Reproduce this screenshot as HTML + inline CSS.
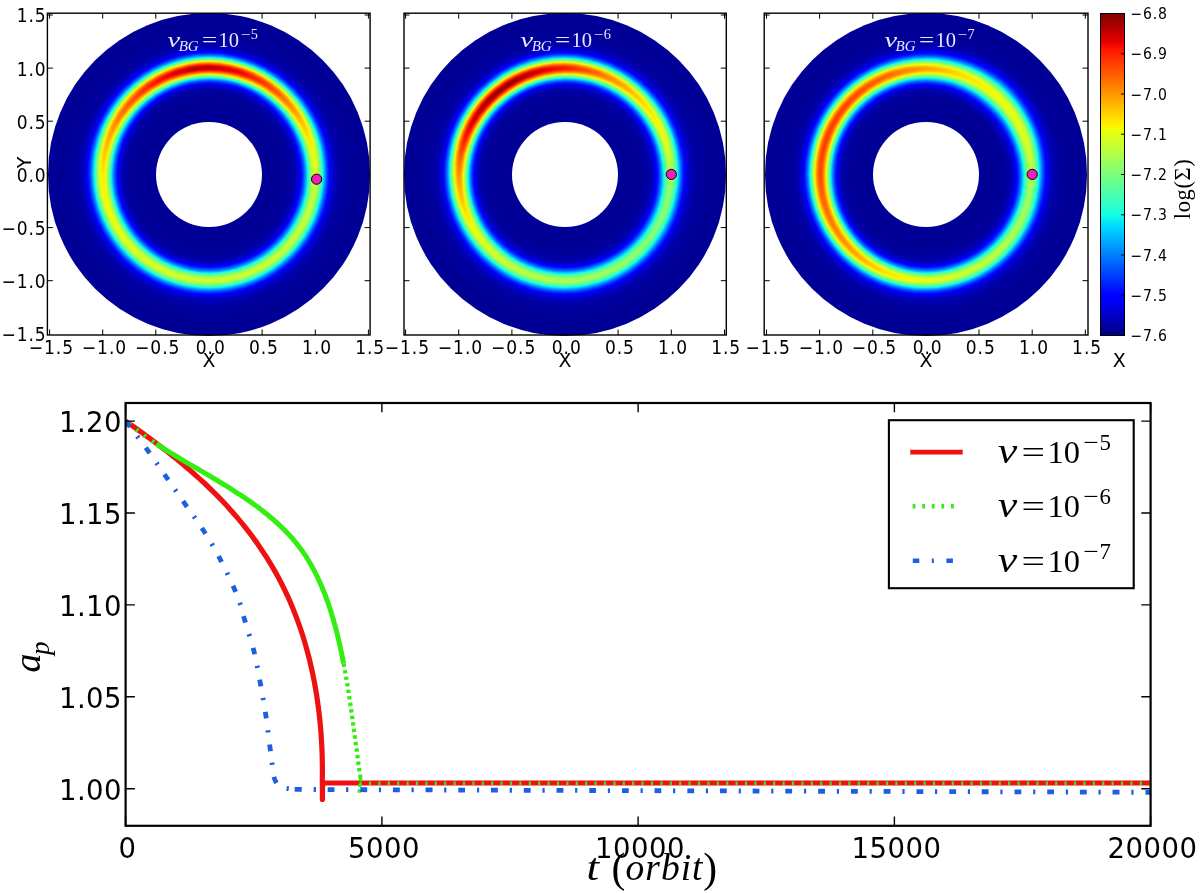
<!DOCTYPE html>
<html><head><meta charset="utf-8"><title>Migration figure</title>
<style>
html,body{margin:0;padding:0;background:#fff}
#fig{position:relative;width:1200px;height:893px;overflow:hidden;background:#fff}
.d{position:absolute;border-radius:50%}
svg{position:absolute;left:0;top:0}
svg{font-family:'DejaVu Sans','Liberation Sans',sans-serif;fill:#000}
</style></head><body>
<div id="fig">
<div class="d" style="left:47.8px;top:13.2px;width:322.4px;height:322.4px;background:#000097"></div>
<div class="d" style="left:52.7px;top:18.1px;width:312.5px;height:312.5px;background:#000097"></div>
<div class="d" style="left:56.7px;top:22.1px;width:304.5px;height:304.5px;background:#000097"></div>
<div class="d" style="left:60.7px;top:26.1px;width:296.5px;height:296.5px;background:#000097"></div>
<div class="d" style="left:64.7px;top:30.1px;width:288.5px;height:288.5px;background:#000098"></div>
<div class="d" style="left:68.7px;top:34.1px;width:280.5px;height:280.5px;background:#00009a"></div>
<div class="d" style="left:72.7px;top:38.1px;width:272.5px;height:272.5px;background:#00009d"></div>
<div class="d" style="left:74.7px;top:40.1px;width:268.5px;height:268.5px;background:#0000a0"></div>
<div class="d" style="left:76.7px;top:42.1px;width:264.5px;height:264.5px;background:#0000a5"></div>
<div class="d" style="left:78.7px;top:44.1px;width:260.5px;height:260.5px;background:conic-gradient(#0000ad 0deg,#0000a9 220deg,#0000ad 360deg)"></div>
<div class="d" style="left:80.7px;top:46.1px;width:256.5px;height:256.5px;background:conic-gradient(#0000ba 0deg,#0000b1 200deg,#0000bb 310deg,#0000ba 360deg)"></div>
<div class="d" style="left:82.7px;top:48.1px;width:252.5px;height:252.5px;background:conic-gradient(#0000d1 0deg,#0000bc 190deg,#0000cf 290deg,#0000d1 360deg)"></div>
<div class="d" style="left:84.7px;top:50.1px;width:248.5px;height:248.5px;background:conic-gradient(#0000f6 0deg,#0000ce 180deg,#0000e8 260deg,#0000f7 330deg,#0000f6 360deg)"></div>
<div class="d" style="left:86.7px;top:52.1px;width:244.5px;height:244.5px;background:conic-gradient(#000eff 0deg,#0000ff 60deg,#0000ff 90deg,#0000e3 180deg,#0000ff 250deg,#0006ff 300deg,#0010ff 350deg,#000eff 360deg)"></div>
<div class="d" style="left:87.7px;top:53.1px;width:242.5px;height:242.5px;background:conic-gradient(#002fff 0deg,#0020ff 40deg,#0000ff 100deg,#0000fc 160deg,#0000f6 180deg,#0000ff 210deg,#0004ff 240deg,#001aff 280deg,#0031ff 350deg,#002fff 360deg)"></div>
<div class="d" style="left:88.7px;top:54.1px;width:240.5px;height:240.5px;background:conic-gradient(#0057ff 0deg,#0042ff 40deg,#0024ff 80deg,#000dff 130deg,#0000ff 180deg,#000bff 210deg,#0039ff 280deg,#0056ff 340deg,#0057ff 360deg)"></div>
<div class="d" style="left:89.7px;top:55.1px;width:238.5px;height:238.5px;background:conic-gradient(#0086ff 0deg,#0074ff 30deg,#0044ff 80deg,#0030ff 110deg,#0015ff 180deg,#003cff 240deg,#005dff 280deg,#0084ff 340deg,#0086ff 360deg)"></div>
<div class="d" style="left:90.7px;top:56.1px;width:236.5px;height:236.5px;background:conic-gradient(#00bdff 0deg,#00a5ff 30deg,#0068ff 80deg,#0062ff 90deg,#0055ff 100deg,#0032ff 180deg,#005fff 240deg,#00b4ff 330deg,#00bfff 350deg,#00bdff 360deg)"></div>
<div class="d" style="left:91.7px;top:57.1px;width:234.5px;height:234.5px;background:conic-gradient(#12fce5 0deg,#00defd 30deg,#009dff 70deg,#0089ff 90deg,#007aff 100deg,#0054ff 180deg,#0086ff 240deg,#00d7ff 310deg,#00e3f9 320deg,#13fee3 350deg,#12fce5 360deg)"></div>
<div class="d" style="left:92.7px;top:58.1px;width:232.5px;height:232.5px;background:conic-gradient(#4affad 0deg,#2cffcb 30deg,#1dffda 40deg,#0cf4eb 50deg,#00e0fb 60deg,#00beff 80deg,#00b4ff 90deg,#00a3ff 100deg,#007aff 180deg,#00b1ff 240deg,#00d8ff 270deg,#00e4f8 280deg,#16ffe0 300deg,#3bffbc 330deg,#4bffac 350deg,#4affad 360deg)"></div>
<div class="d" style="left:93.7px;top:59.1px;width:230.5px;height:230.5px;background:conic-gradient(#86ff71 0deg,#71ff85 20deg,#3bffbb 50deg,#15ffe2 70deg,#07eef0 80deg,#00e1fa 90deg,#00ceff 100deg,#00a5ff 180deg,#00d5ff 230deg,#00e0fb 240deg,#12fbe5 260deg,#45ffb1 300deg,#72ff84 330deg,#87ff70 350deg,#86ff71 360deg)"></div>
<div class="d" style="left:94.7px;top:60.1px;width:228.5px;height:228.5px;background:conic-gradient(#c5ff32 0deg,#acff4b 20deg,#6cff8a 50deg,#3fffb8 70deg,#12fce5 100deg,#00e3f9 150deg,#00d3ff 180deg,#00e6f7 200deg,#10fae6 220deg,#23ffd4 240deg,#54ffa3 280deg,#acff4b 330deg,#c5ff32 350deg,#c5ff32 360deg)"></div>
<div class="d" style="left:95.7px;top:61.1px;width:226.5px;height:226.5px;background:conic-gradient(#ffe700 0deg,#f7f500 10deg,#e7ff10 20deg,#b9ff3e 40deg,#69ff8d 70deg,#56ffa1 80deg,#36ffc1 100deg,#18ffdf 180deg,#4affad 240deg,#7eff78 280deg,#e5ff11 330deg,#f4f802 340deg,#ffe700 350deg,#ffe700 360deg)"></div>
<div class="d" style="left:96.7px;top:62.1px;width:224.5px;height:224.5px;background:conic-gradient(#ffa100 0deg,#ffc700 20deg,#ffe300 30deg,#ebff0b 40deg,#92ff65 70deg,#7cff7a 80deg,#59ff9e 100deg,#3fffb8 180deg,#70ff87 240deg,#95ff62 270deg,#bcff3a 290deg,#edff0a 310deg,#ffe600 320deg,#ffca00 330deg,#ffa200 350deg,#ffa100 360deg)"></div>
<div class="d" style="left:97.7px;top:63.1px;width:222.5px;height:222.5px;background:conic-gradient(#ff6100 0deg,#ff8b00 20deg,#ffcd00 40deg,#f8f400 50deg,#d7ff20 60deg,#b7ff40 70deg,#9fff58 80deg,#79ff7d 100deg,#64ff93 180deg,#93ff64 240deg,#b8ff3f 270deg,#e4ff13 290deg,#ffed00 300deg,#ff9000 330deg,#ff6300 350deg,#ff6100 360deg)"></div>
<div class="d" style="left:98.7px;top:64.1px;width:220.5px;height:220.5px;background:conic-gradient(#ff2b00 0deg,#ff3e00 10deg,#ff5800 20deg,#ffa000 40deg,#f9f300 60deg,#d7ff20 70deg,#bdff3a 80deg,#95ff62 100deg,#86ff71 180deg,#b2ff45 240deg,#d6ff21 270deg,#ecff0b 280deg,#ffe500 290deg,#ff5f00 330deg,#ff2d00 350deg,#ff2b00 360deg)"></div>
<div class="d" style="left:99.7px;top:65.1px;width:218.5px;height:218.5px;background:conic-gradient(#e80000 0deg,#ff1500 10deg,#ff3000 20deg,#ff7c00 40deg,#ffd400 60deg,#effe07 70deg,#d4ff23 80deg,#abff4c 100deg,#a3ff53 180deg,#c3ff34 230deg,#edff0a 270deg,#ffe600 280deg,#ff8000 310deg,#ff3800 330deg,#ff1e00 340deg,#ec0300 350deg,#e80000 360deg)"></div>
<div class="d" style="left:100.7px;top:66.1px;width:216.5px;height:216.5px;background:conic-gradient(#c50000 0deg,#df0000 10deg,#ff1600 20deg,#ff6500 40deg,#ffeb00 70deg,#e3ff13 80deg,#baff3d 100deg,#baff3d 180deg,#ceff28 220deg,#e7ff10 250deg,#f1fc05 260deg,#fcef00 270deg,#ffb300 290deg,#ff1f00 330deg,#eb0300 340deg,#c90000 350deg,#c50000 360deg)"></div>
<div class="d" style="left:101.7px;top:67.1px;width:214.5px;height:214.5px;background:conic-gradient(#b50000 0deg,#d10000 10deg,#f40a00 20deg,#ff3000 30deg,#ffe300 70deg,#eaff0d 80deg,#c1ff36 100deg,#ccff2b 190deg,#e5ff12 240deg,#effe08 250deg,#f9f300 260deg,#ffe800 270deg,#ffaa00 290deg,#ff1300 330deg,#dd0000 340deg,#ba0000 350deg,#b50000 360deg)"></div>
<div class="d" style="left:102.7px;top:68.1px;width:212.5px;height:212.5px;background:conic-gradient(#bb0000 0deg,#d60000 10deg,#f90e00 20deg,#ff5e00 40deg,#ffe600 70deg,#e8ff0f 80deg,#bfff37 100deg,#d6ff21 210deg,#eeff08 250deg,#f8f500 260deg,#ffea00 270deg,#ffad00 290deg,#ff1700 330deg,#e20000 340deg,#bf0000 350deg,#bb0000 360deg)"></div>
<div class="d" style="left:103.7px;top:69.1px;width:210.5px;height:210.5px;background:conic-gradient(#d40000 0deg,#ef0600 10deg,#ff2200 20deg,#ff6f00 40deg,#ffc900 60deg,#f8f400 70deg,#dcff1a 80deg,#b6ff41 100deg,#d4ff23 220deg,#e5ff12 250deg,#edff0a 260deg,#f5f702 270deg,#ffdc00 280deg,#ff7300 310deg,#ff2a00 330deg,#fa0f00 340deg,#d90000 350deg,#d40000 360deg)"></div>
<div class="d" style="left:104.7px;top:70.1px;width:208.5px;height:208.5px;background:conic-gradient(#ff1500 0deg,#ff2900 10deg,#ff4400 20deg,#ff8e00 40deg,#ffe300 60deg,#e3ff14 70deg,#c8ff2e 80deg,#a4ff53 100deg,#beff39 190deg,#c8ff2f 230deg,#daff1d 260deg,#e1ff16 270deg,#f8f400 280deg,#ffd600 290deg,#ff4b00 330deg,#ff1800 350deg,#ff1500 360deg)"></div>
<div class="d" style="left:105.7px;top:71.1px;width:206.5px;height:206.5px;background:conic-gradient(#ff4600 0deg,#ff7200 20deg,#ffb700 40deg,#ffe000 50deg,#e7ff0f 60deg,#c6ff31 70deg,#adff4a 80deg,#8cff6b 100deg,#a7ff4f 180deg,#acff4a 220deg,#b9ff3e 250deg,#c6ff31 270deg,#f4f903 290deg,#ffd900 300deg,#ff7800 330deg,#ff4900 350deg,#ff4600 360deg)"></div>
<div class="d" style="left:106.7px;top:72.1px;width:204.5px;height:204.5px;background:conic-gradient(#ff8300 0deg,#ffab00 20deg,#ffea00 40deg,#e0ff16 50deg,#a3ff54 70deg,#8cff6b 80deg,#6eff89 100deg,#8bff6c 180deg,#91ff66 230deg,#a5ff52 270deg,#ceff29 290deg,#e8ff0f 300deg,#ffe900 310deg,#ffaf00 330deg,#ff8500 350deg,#ff8300 360deg)"></div>
<div class="d" style="left:107.7px;top:73.1px;width:202.5px;height:202.5px;background:conic-gradient(#ffc700 0deg,#ffeb00 20deg,#e9ff0d 30deg,#7bff7c 70deg,#66ff90 80deg,#4bffab 100deg,#69ff8e 180deg,#6dff89 230deg,#7fff78 270deg,#bbff3c 300deg,#e8ff0f 320deg,#feed00 330deg,#ffc800 350deg,#ffc700 360deg)"></div>
<div class="d" style="left:108.7px;top:74.1px;width:200.5px;height:200.5px;background:conic-gradient(#e0ff17 0deg,#c5ff31 20deg,#81ff76 50deg,#50ffa7 70deg,#32ffc5 90deg,#27ffd0 100deg,#43ffb4 180deg,#49ffae 240deg,#56ffa1 270deg,#8aff6d 300deg,#c4ff32 330deg,#e0ff17 350deg,#e0ff17 360deg)"></div>
<div class="d" style="left:109.7px;top:75.1px;width:198.5px;height:198.5px;background:conic-gradient(#a0ff57 0deg,#89ff6e 20deg,#4fffa8 50deg,#25ffd2 70deg,#15ffe2 80deg,#01e7f6 100deg,#15ffe2 160deg,#1bffdb 190deg,#20ffd6 240deg,#2cffcb 270deg,#69ff8e 310deg,#8aff6d 330deg,#a0ff56 350deg,#a0ff57 360deg)"></div>
<div class="d" style="left:110.7px;top:76.1px;width:196.5px;height:196.5px;background:conic-gradient(#61ff95 0deg,#4fffa8 20deg,#1dffda 50deg,#0bf4eb 60deg,#00defd 70deg,#00c3ff 90deg,#00b9ff 100deg,#00d6ff 180deg,#00dcff 240deg,#03e9f4 270deg,#19ffdd 290deg,#50ffa7 330deg,#62ff94 350deg,#61ff95 360deg)"></div>
<div class="d" style="left:111.7px;top:77.1px;width:194.5px;height:194.5px;background:conic-gradient(#26ffd1 0deg,#17ffe0 20deg,#00e3f9 40deg,#00beff 60deg,#009eff 80deg,#008dff 100deg,#00a6ff 190deg,#00b0ff 250deg,#00b7ff 270deg,#00dcfe 300deg,#04eaf3 310deg,#0ff8e8 320deg,#19ffdd 330deg,#28ffcf 350deg,#26ffd1 360deg)"></div>
<div class="d" style="left:112.7px;top:78.1px;width:192.5px;height:192.5px;background:conic-gradient(#00d2ff 0deg,#00b7ff 30deg,#0072ff 80deg,#0065ff 100deg,#007aff 190deg,#0083ff 250deg,#0089ff 270deg,#00cdff 340deg,#00d4ff 350deg,#00d2ff 360deg)"></div>
<div class="d" style="left:113.7px;top:79.1px;width:190.5px;height:190.5px;background:conic-gradient(#0096ff 0deg,#0081ff 30deg,#004bff 80deg,#0040ff 100deg,#0052ff 200deg,#005fff 270deg,#0093ff 340deg,#0098ff 350deg,#0096ff 360deg)"></div>
<div class="d" style="left:114.7px;top:80.1px;width:188.5px;height:188.5px;background:conic-gradient(#0062ff 0deg,#004aff 40deg,#0028ff 80deg,#0020ff 100deg,#002fff 200deg,#003aff 270deg,#0061ff 340deg,#0062ff 360deg)"></div>
<div class="d" style="left:115.7px;top:81.1px;width:186.5px;height:186.5px;background:conic-gradient(#0036ff 0deg,#0024ff 40deg,#000bff 80deg,#0005ff 110deg,#001aff 270deg,#0038ff 350deg,#0036ff 360deg)"></div>
<div class="d" style="left:116.7px;top:82.1px;width:184.5px;height:184.5px;background:conic-gradient(#0012ff 0deg,#0000ff 60deg,#0000fd 120deg,#0001ff 280deg,#0013ff 350deg,#0012ff 360deg)"></div>
<div class="d" style="left:117.7px;top:83.1px;width:182.5px;height:182.5px;background:conic-gradient(#0000ff 0deg,#0000fc 30deg,#0000e5 100deg,#0000f7 280deg,#0000ff 340deg,#0000ff 360deg)"></div>
<div class="d" style="left:118.7px;top:84.1px;width:180.5px;height:180.5px;background:conic-gradient(#0000e8 0deg,#0000d3 100deg,#0000e2 290deg,#0000ea 350deg,#0000e8 360deg)"></div>
<div class="d" style="left:119.7px;top:85.1px;width:178.5px;height:178.5px;background:conic-gradient(#0000d4 0deg,#0000c5 100deg,#0000d4 360deg)"></div>
<div class="d" style="left:120.7px;top:86.1px;width:176.5px;height:176.5px;background:conic-gradient(#0000c4 0deg,#0000bb 120deg,#0000c4 360deg)"></div>
<div class="d" style="left:121.7px;top:87.1px;width:174.5px;height:174.5px;background:conic-gradient(#0000b8 0deg,#0000b2 130deg,#0000b8 360deg)"></div>
<div class="d" style="left:122.7px;top:88.1px;width:172.5px;height:172.5px;background:#0000ab"></div>
<div class="d" style="left:124.7px;top:90.1px;width:168.5px;height:168.5px;background:#0000a2"></div>
<div class="d" style="left:126.7px;top:92.1px;width:164.5px;height:164.5px;background:#00009d"></div>
<div class="d" style="left:128.7px;top:94.1px;width:160.5px;height:160.5px;background:#00009a"></div>
<div class="d" style="left:130.7px;top:96.1px;width:156.5px;height:156.5px;background:#000098"></div>
<div class="d" style="left:132.7px;top:98.1px;width:152.5px;height:152.5px;background:#000098"></div>
<div class="d" style="left:134.7px;top:100.1px;width:148.5px;height:148.5px;background:#000097"></div>
<div class="d" style="left:136.7px;top:102.1px;width:144.5px;height:144.5px;background:#000097"></div>
<div class="d" style="left:140.7px;top:106.1px;width:136.5px;height:136.5px;background:#000097"></div>
<div class="d" style="left:144.7px;top:110.1px;width:128.5px;height:128.5px;background:#000097"></div>
<div class="d" style="left:148.7px;top:114.1px;width:120.5px;height:120.5px;background:#000097"></div>
<div class="d" style="left:152.7px;top:118.1px;width:112.5px;height:112.5px;background:#000097"></div>
<div class="d" style="left:156.2px;top:121.6px;width:105.7px;height:105.7px;background:#fff"></div>
<div class="d" style="left:403.8px;top:13.2px;width:322.4px;height:322.4px;background:#000097"></div>
<div class="d" style="left:408.7px;top:18.1px;width:312.5px;height:312.5px;background:#000097"></div>
<div class="d" style="left:412.7px;top:22.1px;width:304.5px;height:304.5px;background:#000097"></div>
<div class="d" style="left:416.7px;top:26.1px;width:296.5px;height:296.5px;background:#000097"></div>
<div class="d" style="left:420.7px;top:30.1px;width:288.5px;height:288.5px;background:#000098"></div>
<div class="d" style="left:424.7px;top:34.1px;width:280.5px;height:280.5px;background:#00009a"></div>
<div class="d" style="left:428.7px;top:38.1px;width:272.5px;height:272.5px;background:#00009d"></div>
<div class="d" style="left:430.7px;top:40.1px;width:268.5px;height:268.5px;background:#0000a0"></div>
<div class="d" style="left:432.7px;top:42.1px;width:264.5px;height:264.5px;background:#0000a4"></div>
<div class="d" style="left:434.7px;top:44.1px;width:260.5px;height:260.5px;background:conic-gradient(#0000ac 0deg,#0000a9 220deg,#0000ac 360deg)"></div>
<div class="d" style="left:436.7px;top:46.1px;width:256.5px;height:256.5px;background:conic-gradient(#0000b8 0deg,#0000b0 160deg,#0000ba 330deg,#0000b8 360deg)"></div>
<div class="d" style="left:438.7px;top:48.1px;width:252.5px;height:252.5px;background:conic-gradient(#0000cc 0deg,#0000bc 120deg,#0000c1 220deg,#0000d1 300deg,#0000cc 360deg)"></div>
<div class="d" style="left:440.7px;top:50.1px;width:248.5px;height:248.5px;background:conic-gradient(#0000ed 0deg,#0000d0 100deg,#0000d1 190deg,#0000e2 250deg,#0000f6 300deg,#0000f3 340deg,#0000ed 360deg)"></div>
<div class="d" style="left:442.7px;top:52.1px;width:244.5px;height:244.5px;background:conic-gradient(#0002ff 0deg,#0000fc 40deg,#0000e4 110deg,#0000e6 190deg,#0000ff 250deg,#0000ff 270deg,#000dff 300deg,#000eff 330deg,#0002ff 360deg)"></div>
<div class="d" style="left:443.7px;top:53.1px;width:242.5px;height:242.5px;background:conic-gradient(#001fff 0deg,#0000ff 50deg,#0000fd 90deg,#0000f5 130deg,#0000f9 190deg,#0000ff 230deg,#0001ff 240deg,#0029ff 290deg,#0030ff 320deg,#001fff 360deg)"></div>
<div class="d" style="left:444.7px;top:54.1px;width:240.5px;height:240.5px;background:conic-gradient(#0042ff 0deg,#001aff 50deg,#0000ff 100deg,#0000ff 190deg,#001bff 240deg,#004eff 290deg,#0058ff 320deg,#0049ff 350deg,#0042ff 360deg)"></div>
<div class="d" style="left:445.7px;top:55.1px;width:238.5px;height:238.5px;background:conic-gradient(#006cff 0deg,#0040ff 40deg,#0014ff 100deg,#0014ff 180deg,#0030ff 230deg,#006cff 280deg,#007aff 290deg,#0087ff 320deg,#007dff 340deg,#006cff 360deg)"></div>
<div class="d" style="left:446.7px;top:56.1px;width:236.5px;height:236.5px;background:conic-gradient(#009dff 0deg,#0072ff 30deg,#0055ff 60deg,#002fff 100deg,#002bff 130deg,#0030ff 180deg,#0049ff 220deg,#006aff 250deg,#00acff 290deg,#00beff 320deg,#00b2ff 340deg,#009dff 360deg)"></div>
<div class="d" style="left:447.7px;top:57.1px;width:234.5px;height:234.5px;background:conic-gradient(#00d5ff 0deg,#00a0ff 30deg,#007cff 60deg,#004dff 100deg,#0049ff 130deg,#0050ff 180deg,#006eff 220deg,#0095ff 250deg,#00cfff 280deg,#00e5f7 290deg,#0ff8e8 310deg,#12fce5 320deg,#10f9e7 330deg,#00e1fa 350deg,#00d5ff 360deg)"></div>
<div class="d" style="left:448.7px;top:58.1px;width:232.5px;height:232.5px;background:conic-gradient(#24ffd2 0deg,#12fce5 10deg,#00e6f7 20deg,#00d4ff 30deg,#00b3ff 50deg,#008fff 80deg,#006fff 100deg,#0069ff 120deg,#0075ff 180deg,#0096ff 220deg,#00b1ff 240deg,#00daff 260deg,#09f1ee 270deg,#1cffdb 280deg,#33ffc4 290deg,#46ffb1 310deg,#48ffaf 330deg,#24ffd2 360deg)"></div>
<div class="d" style="left:449.7px;top:59.1px;width:230.5px;height:230.5px;background:conic-gradient(#5bff9c 0deg,#1effd8 30deg,#0ef6e9 40deg,#00e5f7 50deg,#00d8ff 60deg,#00a8ff 90deg,#0094ff 100deg,#008eff 120deg,#009dff 180deg,#00b6ff 210deg,#00d0ff 230deg,#00e1fa 240deg,#0ef6e9 250deg,#22ffd5 260deg,#4effa9 280deg,#69ff8e 290deg,#81ff76 310deg,#86ff71 320deg,#84ff73 330deg,#5bff9c 360deg)"></div>
<div class="d" style="left:450.7px;top:60.1px;width:228.5px;height:228.5px;background:conic-gradient(#93ff63 0deg,#62ff95 20deg,#2affcd 50deg,#12fce5 70deg,#02e8f5 80deg,#00d2ff 90deg,#00bbff 100deg,#00b4ff 120deg,#00c8ff 180deg,#00daff 200deg,#00e3f9 210deg,#15ffe2 230deg,#38ffbf 250deg,#82ff75 280deg,#a2ff55 290deg,#beff38 310deg,#c5ff32 320deg,#c2ff34 330deg,#93ff63 360deg)"></div>
<div class="d" style="left:451.7px;top:61.1px;width:226.5px;height:226.5px;background:conic-gradient(#cdff2a 0deg,#95ff62 20deg,#67ff8f 40deg,#27ffcf 80deg,#13fee3 90deg,#00e4f8 100deg,#00dcff 120deg,#04ebf3 160deg,#14fee3 190deg,#23ffd4 210deg,#4effa9 240deg,#7dff7a 260deg,#b6ff41 280deg,#dbff1c 290deg,#eeff08 300deg,#fcef00 310deg,#ffe600 320deg,#ffe900 330deg,#f2fb04 340deg,#cdff2a 360deg)"></div>
<div class="d" style="left:452.7px;top:62.1px;width:224.5px;height:224.5px;background:conic-gradient(#ffe500 0deg,#e6ff11 10deg,#c6ff30 20deg,#94ff63 40deg,#4cffaa 80deg,#1effd8 100deg,#17ffdf 120deg,#30ffc7 180deg,#48ffaf 210deg,#63ff94 230deg,#8dff6a 250deg,#c5ff32 270deg,#e8ff0e 280deg,#ffd700 290deg,#ffbc00 300deg,#ffaa00 310deg,#ffa000 320deg,#ffa200 330deg,#ffce00 350deg,#ffe500 360deg)"></div>
<div class="d" style="left:453.7px;top:63.1px;width:222.5px;height:222.5px;background:conic-gradient(#ffa800 0deg,#ffd000 10deg,#f5f702 20deg,#d9ff1d 30deg,#a8ff4f 50deg,#86ff71 70deg,#3dffba 100deg,#35ffc2 120deg,#52ffa4 180deg,#6aff8d 210deg,#87ff70 230deg,#b4ff43 250deg,#effe07 270deg,#ffd100 280deg,#ff9c00 290deg,#ff7f00 300deg,#ff6a00 310deg,#ff5e00 320deg,#ff6000 330deg,#ffa800 360deg)"></div>
<div class="d" style="left:454.7px;top:64.1px;width:220.5px;height:220.5px;background:conic-gradient(#ff7300 0deg,#ffc800 20deg,#ffea00 30deg,#e3ff14 40deg,#b9ff3e 60deg,#a7ff4f 70deg,#58ff9f 100deg,#50ffa7 120deg,#64ff93 160deg,#89ff6e 210deg,#a6ff50 230deg,#bbff3c 240deg,#d5ff21 250deg,#f5f802 260deg,#ffd400 270deg,#ffa300 280deg,#ff6900 290deg,#ff4900 300deg,#ff3200 310deg,#ff2400 320deg,#ff2600 330deg,#ff5800 350deg,#ff7300 360deg)"></div>
<div class="d" style="left:455.7px;top:65.1px;width:218.5px;height:218.5px;background:conic-gradient(#ff4700 0deg,#ffa100 20deg,#ffe900 40deg,#e9ff0e 50deg,#c3ff34 70deg,#6eff89 100deg,#66ff91 120deg,#83ff73 170deg,#a2ff55 210deg,#c0ff37 230deg,#d5ff21 240deg,#f1fd06 250deg,#ffd700 260deg,#ffb200 270deg,#ff7e00 280deg,#ff4000 290deg,#ff1e00 300deg,#ee0500 310deg,#db0000 320deg,#dc0000 330deg,#f90e00 340deg,#ff4700 360deg)"></div>
<div class="d" style="left:456.7px;top:66.1px;width:216.5px;height:216.5px;background:conic-gradient(#ff2800 0deg,#ff8500 20deg,#ffcf00 40deg,#feed00 50deg,#ebff0c 60deg,#d7ff20 70deg,#7fff78 100deg,#77ff80 120deg,#8eff69 160deg,#b4ff42 210deg,#d3ff24 230deg,#e8ff0f 240deg,#ffe700 250deg,#ff9b00 270deg,#ff6400 280deg,#ff2400 290deg,#e70000 300deg,#c70000 310deg,#b30000 320deg,#b30000 330deg,#d10000 340deg,#f60c00 350deg,#ff2800 360deg)"></div>
<div class="d" style="left:457.7px;top:67.1px;width:214.5px;height:214.5px;background:conic-gradient(#ff1600 0deg,#ff7500 20deg,#ffc000 40deg,#ffdf00 50deg,#f7f500 60deg,#e3ff14 70deg,#89ff6e 100deg,#81ff76 120deg,#99ff5e 160deg,#bfff38 210deg,#ddff1a 230deg,#f2fb04 240deg,#ffdb00 250deg,#ff8f00 270deg,#ff5700 280deg,#ff1500 290deg,#d30000 300deg,#b20000 310deg,#9d0000 320deg,#9d0000 330deg,#ba0000 340deg,#e00000 350deg,#ff1600 360deg)"></div>
<div class="d" style="left:458.7px;top:68.1px;width:212.5px;height:212.5px;background:conic-gradient(#ff1400 0deg,#ff7200 20deg,#ffbd00 40deg,#ffdb00 50deg,#faf200 60deg,#e6ff11 70deg,#8cff6b 100deg,#84ff73 120deg,#9cff5b 160deg,#c1ff36 210deg,#deff18 230deg,#f3fa03 240deg,#ffda00 250deg,#ff8f00 270deg,#ff5700 280deg,#ff1500 290deg,#d30000 300deg,#b10000 310deg,#9c0000 320deg,#9b0000 330deg,#b80000 340deg,#dd0000 350deg,#ff1400 360deg)"></div>
<div class="d" style="left:459.7px;top:69.1px;width:210.5px;height:210.5px;background:conic-gradient(#ff2000 0deg,#ff7c00 20deg,#ffc600 40deg,#ffe400 50deg,#f3fa04 60deg,#e0ff17 70deg,#a8ff4f 90deg,#87ff70 100deg,#7fff78 120deg,#97ff60 160deg,#baff3c 210deg,#d7ff20 230deg,#ebff0c 240deg,#ffe500 250deg,#ff9c00 270deg,#ff6500 280deg,#ff2300 290deg,#e50000 300deg,#c40000 310deg,#ae0000 320deg,#ae0000 330deg,#c90000 340deg,#ee0500 350deg,#ff2000 360deg)"></div>
<div class="d" style="left:460.7px;top:70.1px;width:208.5px;height:208.5px;background:conic-gradient(#ff3c00 0deg,#ff9400 20deg,#ffdb00 40deg,#f6f701 50deg,#e3ff13 60deg,#d1ff26 70deg,#9bff5c 90deg,#7bff7c 100deg,#73ff84 120deg,#8aff6d 160deg,#abff4b 210deg,#c6ff31 230deg,#f2fb04 250deg,#ffd800 260deg,#ffb500 270deg,#ff7f00 280deg,#ff4000 290deg,#ff1c00 300deg,#e90100 310deg,#d50000 320deg,#d30000 330deg,#ee0500 340deg,#ff2100 350deg,#ff3c00 360deg)"></div>
<div class="d" style="left:461.7px;top:71.1px;width:206.5px;height:206.5px;background:conic-gradient(#ff6400 0deg,#ffb700 20deg,#ffd800 30deg,#f3fa03 40deg,#dcff1b 50deg,#baff3d 70deg,#68ff8e 100deg,#61ff96 120deg,#7dff7a 170deg,#95ff62 210deg,#aeff49 230deg,#d7ff1f 250deg,#f4f903 260deg,#ffd800 270deg,#ffa500 280deg,#ff6a00 290deg,#ff4700 300deg,#ff2e00 310deg,#ff1e00 320deg,#ff1c00 330deg,#ff6400 360deg)"></div>
<div class="d" style="left:462.7px;top:72.1px;width:204.5px;height:204.5px;background:conic-gradient(#ff9700 0deg,#ffe400 20deg,#ecff0b 30deg,#bbff3b 50deg,#9bff5b 70deg,#50ffa7 100deg,#48ffae 120deg,#62ff95 170deg,#78ff7f 210deg,#8fff68 230deg,#b6ff41 250deg,#eaff0d 270deg,#ffd500 280deg,#ff9d00 290deg,#ff7d00 300deg,#ff6600 310deg,#ff5600 320deg,#ff5500 330deg,#ff9700 360deg)"></div>
<div class="d" style="left:463.7px;top:73.1px;width:202.5px;height:202.5px;background:conic-gradient(#ffd200 0deg,#f7f500 10deg,#d9ff1e 20deg,#a8ff4e 40deg,#86ff70 60deg,#64ff93 80deg,#33ffc3 100deg,#2cffcb 120deg,#48ffaf 180deg,#56ffa1 210deg,#6bff8b 230deg,#8eff68 250deg,#beff38 270deg,#e4ff13 280deg,#ffd900 290deg,#ffbc00 300deg,#ffa600 310deg,#ff9800 320deg,#ff9700 330deg,#ffd200 360deg)"></div>
<div class="d" style="left:464.7px;top:74.1px;width:200.5px;height:200.5px;background:conic-gradient(#ddff1a 0deg,#a7ff50 20deg,#6bff8c 50deg,#51ffa6 70deg,#14fee3 100deg,#0df5ea 120deg,#1bffdc 160deg,#31ffc5 210deg,#52ffa5 240deg,#8fff68 270deg,#d8ff1f 290deg,#eeff08 300deg,#ffec00 310deg,#ffdf00 320deg,#ffde00 330deg,#feed00 340deg,#edff0a 350deg,#ddff1a 360deg)"></div>
<div class="d" style="left:465.7px;top:75.1px;width:198.5px;height:198.5px;background:conic-gradient(#a3ff54 0deg,#61ff96 30deg,#3fffb8 50deg,#28ffce 70deg,#18ffde 80deg,#07eef0 90deg,#00d5ff 100deg,#00cdff 120deg,#00dbff 160deg,#04eaf3 190deg,#0bf4eb 210deg,#14fee3 220deg,#28ffce 240deg,#5eff99 270deg,#9eff59 290deg,#c0ff36 310deg,#caff2d 320deg,#cbff2c 330deg,#a3ff54 360deg)"></div>
<div class="d" style="left:466.7px;top:76.1px;width:196.5px;height:196.5px;background:conic-gradient(#68ff8e 0deg,#30ffc7 30deg,#13fde4 50deg,#00e5f7 70deg,#00d4ff 80deg,#00acff 100deg,#00a4ff 120deg,#00c5ff 210deg,#00d7ff 230deg,#00e4f8 240deg,#0df5ea 250deg,#1dffda 260deg,#2effc9 270deg,#64ff93 290deg,#82ff75 310deg,#8aff6d 320deg,#8bff6c 330deg,#68ff8e 360deg)"></div>
<div class="d" style="left:467.7px;top:77.1px;width:194.5px;height:194.5px;background:conic-gradient(#30ffc7 0deg,#1fffd8 10deg,#0ef7e9 20deg,#01e6f6 30deg,#00d5ff 40deg,#00a6ff 80deg,#0084ff 100deg,#007dff 120deg,#0097ff 210deg,#00b2ff 240deg,#00d3ff 260deg,#00e4f8 270deg,#14fee3 280deg,#2dffca 290deg,#46ffb1 310deg,#4cffaa 320deg,#4dffaa 330deg,#30ffc7 360deg)"></div>
<div class="d" style="left:468.7px;top:78.1px;width:192.5px;height:192.5px;background:conic-gradient(#00e0fb 0deg,#00b0ff 30deg,#008eff 60deg,#006eff 90deg,#005eff 100deg,#0058ff 120deg,#006dff 210deg,#0084ff 240deg,#00aeff 270deg,#00ddfe 290deg,#0df6e9 310deg,#14fee3 330deg,#00e0fb 360deg)"></div>
<div class="d" style="left:469.7px;top:79.1px;width:190.5px;height:190.5px;background:conic-gradient(#00a5ff 0deg,#0073ff 40deg,#0049ff 90deg,#003cff 100deg,#0038ff 130deg,#0044ff 200deg,#005aff 240deg,#007dff 270deg,#00a3ff 290deg,#00bdff 320deg,#00bdff 330deg,#00a5ff 360deg)"></div>
<div class="d" style="left:470.7px;top:80.1px;width:188.5px;height:188.5px;background:conic-gradient(#0071ff 0deg,#0049ff 40deg,#0028ff 90deg,#001eff 100deg,#001aff 140deg,#0026ff 210deg,#003eff 250deg,#005fff 280deg,#0079ff 300deg,#0084ff 320deg,#007fff 340deg,#0071ff 360deg)"></div>
<div class="d" style="left:471.7px;top:81.1px;width:186.5px;height:186.5px;background:conic-gradient(#0044ff 0deg,#001fff 50deg,#000bff 90deg,#0001ff 110deg,#0005ff 190deg,#0015ff 240deg,#0037ff 280deg,#004aff 300deg,#0053ff 330deg,#0044ff 360deg)"></div>
<div class="d" style="left:472.7px;top:82.1px;width:184.5px;height:184.5px;background:conic-gradient(#001eff 0deg,#0000ff 60deg,#0000fb 100deg,#0000f8 160deg,#0000ff 240deg,#0006ff 260deg,#0023ff 300deg,#002aff 330deg,#001eff 360deg)"></div>
<div class="d" style="left:473.7px;top:83.1px;width:182.5px;height:182.5px;background:conic-gradient(#0000ff 0deg,#0000fb 40deg,#0000e4 110deg,#0000e6 200deg,#0000f5 250deg,#0000ff 270deg,#0006ff 310deg,#0006ff 340deg,#0000ff 360deg)"></div>
<div class="d" style="left:474.7px;top:84.1px;width:180.5px;height:180.5px;background:conic-gradient(#0000f3 0deg,#0000d4 100deg,#0000d4 200deg,#0000e4 260deg,#0000f9 310deg,#0000f6 350deg,#0000f3 360deg)"></div>
<div class="d" style="left:475.7px;top:85.1px;width:178.5px;height:178.5px;background:conic-gradient(#0000dc 0deg,#0000c5 120deg,#0000c8 220deg,#0000e2 320deg,#0000dc 360deg)"></div>
<div class="d" style="left:476.7px;top:86.1px;width:176.5px;height:176.5px;background:conic-gradient(#0000cb 0deg,#0000ba 130deg,#0000bf 240deg,#0000cf 320deg,#0000cb 360deg)"></div>
<div class="d" style="left:477.7px;top:87.1px;width:174.5px;height:174.5px;background:conic-gradient(#0000bd 0deg,#0000b1 160deg,#0000bb 280deg,#0000bf 340deg,#0000bd 360deg)"></div>
<div class="d" style="left:478.7px;top:88.1px;width:172.5px;height:172.5px;background:conic-gradient(#0000af 0deg,#0000a9 200deg,#0000b0 350deg,#0000af 360deg)"></div>
<div class="d" style="left:480.7px;top:90.1px;width:168.5px;height:168.5px;background:#0000a4"></div>
<div class="d" style="left:482.7px;top:92.1px;width:164.5px;height:164.5px;background:#00009e"></div>
<div class="d" style="left:484.7px;top:94.1px;width:160.5px;height:160.5px;background:#00009a"></div>
<div class="d" style="left:486.7px;top:96.1px;width:156.5px;height:156.5px;background:#000099"></div>
<div class="d" style="left:488.7px;top:98.1px;width:152.5px;height:152.5px;background:#000098"></div>
<div class="d" style="left:490.7px;top:100.1px;width:148.5px;height:148.5px;background:#000097"></div>
<div class="d" style="left:492.7px;top:102.1px;width:144.5px;height:144.5px;background:#000097"></div>
<div class="d" style="left:496.7px;top:106.1px;width:136.5px;height:136.5px;background:#000097"></div>
<div class="d" style="left:500.7px;top:110.1px;width:128.5px;height:128.5px;background:#000097"></div>
<div class="d" style="left:504.7px;top:114.1px;width:120.5px;height:120.5px;background:#000097"></div>
<div class="d" style="left:508.7px;top:118.1px;width:112.5px;height:112.5px;background:#000097"></div>
<div class="d" style="left:512.2px;top:121.6px;width:105.7px;height:105.7px;background:#fff"></div>
<div class="d" style="left:764.7px;top:13.2px;width:322.4px;height:322.4px;background:#000097"></div>
<div class="d" style="left:769.6px;top:18.1px;width:312.5px;height:312.5px;background:#000097"></div>
<div class="d" style="left:773.6px;top:22.1px;width:304.5px;height:304.5px;background:#000097"></div>
<div class="d" style="left:777.6px;top:26.1px;width:296.5px;height:296.5px;background:#000097"></div>
<div class="d" style="left:781.6px;top:30.1px;width:288.5px;height:288.5px;background:#000098"></div>
<div class="d" style="left:785.6px;top:34.1px;width:280.5px;height:280.5px;background:#000099"></div>
<div class="d" style="left:789.6px;top:38.1px;width:272.5px;height:272.5px;background:#00009c"></div>
<div class="d" style="left:791.6px;top:40.1px;width:268.5px;height:268.5px;background:#00009f"></div>
<div class="d" style="left:793.6px;top:42.1px;width:264.5px;height:264.5px;background:conic-gradient(#0000a3 0deg,#0000a8 50deg,#0000a2 170deg,#0000a4 330deg,#0000a3 360deg)"></div>
<div class="d" style="left:795.6px;top:44.1px;width:260.5px;height:260.5px;background:conic-gradient(#0000ab 0deg,#0000b5 40deg,#0000a8 110deg,#0000a9 220deg,#0000ad 300deg,#0000ab 360deg)"></div>
<div class="d" style="left:797.6px;top:46.1px;width:256.5px;height:256.5px;background:conic-gradient(#0000b6 0deg,#0000c7 40deg,#0000b2 100deg,#0000af 200deg,#0000bc 280deg,#0000b6 360deg)"></div>
<div class="d" style="left:799.6px;top:48.1px;width:252.5px;height:252.5px;background:conic-gradient(#0000c9 0deg,#0000d9 30deg,#0000e1 40deg,#0000c2 90deg,#0000ba 190deg,#0000d5 270deg,#0000c6 350deg,#0000c9 360deg)"></div>
<div class="d" style="left:801.6px;top:50.1px;width:248.5px;height:248.5px;background:conic-gradient(#0000e6 0deg,#0000f2 20deg,#0000fd 30deg,#0000ff 50deg,#0000d9 90deg,#0000c9 180deg,#0000ed 250deg,#0000fb 270deg,#0000e2 350deg,#0000e6 360deg)"></div>
<div class="d" style="left:803.6px;top:52.1px;width:244.5px;height:244.5px;background:conic-gradient(#0000ff 0deg,#0004ff 20deg,#001aff 40deg,#0000ff 70deg,#0000fe 80deg,#0000ec 100deg,#0000dc 180deg,#0000ff 230deg,#0000ff 250deg,#0011ff 270deg,#0000ff 330deg,#0000ff 360deg)"></div>
<div class="d" style="left:804.6px;top:53.1px;width:242.5px;height:242.5px;background:conic-gradient(#000fff 0deg,#001dff 20deg,#0034ff 40deg,#0004ff 80deg,#0000fc 120deg,#0000ed 180deg,#0000fd 200deg,#0001ff 220deg,#002fff 270deg,#0016ff 330deg,#000aff 350deg,#000fff 360deg)"></div>
<div class="d" style="left:805.6px;top:54.1px;width:240.5px;height:240.5px;background:conic-gradient(#002cff 0deg,#0039ff 20deg,#0052ff 40deg,#002dff 70deg,#000eff 90deg,#0004ff 110deg,#0000ff 190deg,#0010ff 210deg,#0052ff 270deg,#003dff 320deg,#0027ff 350deg,#002cff 360deg)"></div>
<div class="d" style="left:806.6px;top:55.1px;width:238.5px;height:238.5px;background:conic-gradient(#004eff 0deg,#005aff 20deg,#0073ff 40deg,#004bff 70deg,#0027ff 90deg,#001eff 100deg,#000aff 180deg,#006eff 260deg,#007bff 270deg,#006aff 310deg,#0049ff 350deg,#004eff 360deg)"></div>
<div class="d" style="left:807.6px;top:56.1px;width:236.5px;height:236.5px;background:conic-gradient(#0074ff 0deg,#007fff 20deg,#0097ff 40deg,#006dff 70deg,#0045ff 90deg,#003aff 100deg,#0027ff 180deg,#0051ff 210deg,#00aaff 270deg,#009eff 300deg,#007dff 340deg,#0071ff 350deg,#0074ff 360deg)"></div>
<div class="d" style="left:808.6px;top:57.1px;width:234.5px;height:234.5px;background:conic-gradient(#00a0ff 0deg,#00a8ff 20deg,#00beff 40deg,#0092ff 70deg,#0066ff 90deg,#0059ff 100deg,#0048ff 180deg,#0079ff 210deg,#00defd 270deg,#00d2ff 300deg,#00adff 340deg,#009eff 350deg,#00a0ff 360deg)"></div>
<div class="d" style="left:809.6px;top:58.1px;width:232.5px;height:232.5px;background:conic-gradient(#00d0ff 0deg,#00d4ff 20deg,#01e7f6 40deg,#00d8ff 50deg,#00baff 70deg,#008bff 90deg,#007cff 100deg,#006fff 180deg,#0091ff 200deg,#00d0ff 230deg,#00e1fa 240deg,#19ffdd 260deg,#28ffcf 270deg,#1effd9 300deg,#10f9e7 320deg,#00e2fa 340deg,#00d1ff 350deg,#00d0ff 360deg)"></div>
<div class="d" style="left:810.6px;top:59.1px;width:230.5px;height:230.5px;background:conic-gradient(#19ffde 0deg,#17ffdf 20deg,#23ffd4 40deg,#17ffe0 50deg,#00e5f8 70deg,#00c9ff 80deg,#00a1ff 100deg,#009bff 180deg,#00c1ff 200deg,#00daff 210deg,#09f1ed 220deg,#1bffdc 230deg,#58ff9e 270deg,#55ffa1 290deg,#40ffb6 320deg,#2bffcc 340deg,#1bffdb 350deg,#19ffde 360deg)"></div>
<div class="d" style="left:811.6px;top:60.1px;width:228.5px;height:228.5px;background:conic-gradient(#45ffb2 0deg,#3effb9 20deg,#45ffb2 40deg,#22ffd5 70deg,#0bf3eb 80deg,#00dcfe 90deg,#00c8ff 100deg,#00cbff 180deg,#00e0fc 190deg,#0cf4eb 200deg,#22ffd5 210deg,#5aff9d 240deg,#8aff6c 270deg,#89ff6e 290deg,#73ff84 320deg,#5cff9b 340deg,#4affad 350deg,#45ffb2 360deg)"></div>
<div class="d" style="left:812.6px;top:61.1px;width:226.5px;height:226.5px;background:conic-gradient(#72ff85 0deg,#65ff92 20deg,#67ff90 40deg,#45ffb2 70deg,#1bffdc 90deg,#09f0ee 100deg,#0cf4eb 130deg,#14ffe2 180deg,#37ffc0 200deg,#79ff7d 230deg,#bdff3a 270deg,#bdff3a 290deg,#a6ff50 320deg,#8dff69 340deg,#7aff7d 350deg,#72ff85 360deg)"></div>
<div class="d" style="left:813.6px;top:62.1px;width:224.5px;height:224.5px;background:conic-gradient(#9eff59 0deg,#8aff6d 20deg,#87ff70 40deg,#67ff90 70deg,#3cffbb 90deg,#29ffce 100deg,#2effc8 130deg,#3fffb8 180deg,#63ff94 200deg,#a9ff4e 230deg,#eeff09 270deg,#effe08 290deg,#d9ff1e 320deg,#bfff38 340deg,#aaff4d 350deg,#9eff59 360deg)"></div>
<div class="d" style="left:814.6px;top:63.1px;width:222.5px;height:222.5px;background:conic-gradient(#c8ff2f 0deg,#adff4a 20deg,#a4ff52 40deg,#87ff70 70deg,#47ffb0 100deg,#50ffa7 130deg,#68ff8e 180deg,#8dff6a 200deg,#d6ff21 230deg,#e8ff0f 240deg,#faf200 250deg,#ffcc00 270deg,#ffc800 290deg,#ffd500 310deg,#fbf100 330deg,#eeff09 340deg,#d7ff20 350deg,#c8ff2f 360deg)"></div>
<div class="d" style="left:815.6px;top:64.1px;width:220.5px;height:220.5px;background:conic-gradient(#eeff09 0deg,#cdff2a 20deg,#a3ff54 70deg,#62ff95 100deg,#6eff89 130deg,#8fff68 180deg,#b3ff43 200deg,#e8ff0f 220deg,#feed00 230deg,#ff9e00 270deg,#ff9800 290deg,#ffa400 310deg,#ffc000 330deg,#ffd000 340deg,#ffeb00 350deg,#eeff09 360deg)"></div>
<div class="d" style="left:816.6px;top:65.1px;width:218.5px;height:218.5px;background:conic-gradient(#ffda00 0deg,#fbf100 10deg,#e7ff10 20deg,#bbff3c 70deg,#79ff7d 100deg,#7fff78 120deg,#b1ff46 180deg,#d5ff22 200deg,#f0fe07 210deg,#ffdf00 220deg,#ff9d00 250deg,#ff7800 270deg,#ff6f00 290deg,#ff7b00 310deg,#ff9600 330deg,#ffa600 340deg,#ffda00 360deg)"></div>
<div class="d" style="left:817.6px;top:66.1px;width:216.5px;height:216.5px;background:conic-gradient(#ffbd00 0deg,#fbf000 20deg,#f0fd06 30deg,#d4ff23 60deg,#cdff2a 70deg,#b5ff42 80deg,#a3ff53 90deg,#8bff6b 100deg,#92ff65 120deg,#cbff2b 180deg,#efff08 200deg,#ffe000 210deg,#ffa800 230deg,#ff5c00 270deg,#ff5100 290deg,#ff6600 320deg,#ff8600 340deg,#ffbd00 360deg)"></div>
<div class="d" style="left:818.6px;top:67.1px;width:214.5px;height:214.5px;background:conic-gradient(#ffaa00 0deg,#ffe100 20deg,#fdef00 30deg,#f0fd07 40deg,#d9ff1e 70deg,#c1ff36 80deg,#b0ff47 90deg,#97ff60 100deg,#9fff58 120deg,#ddff19 180deg,#efff08 190deg,#ffeb00 200deg,#ffae00 220deg,#ff8100 240deg,#ff4c00 270deg,#ff3f00 290deg,#ff4800 310deg,#ff6100 330deg,#ff7100 340deg,#ffaa00 360deg)"></div>
<div class="d" style="left:819.6px;top:68.1px;width:212.5px;height:212.5px;background:conic-gradient(#ffa100 0deg,#ffda00 20deg,#ffe900 30deg,#f5f802 40deg,#ebff0c 50deg,#deff19 70deg,#c6ff31 80deg,#b5ff42 90deg,#9cff5b 100deg,#a4ff52 120deg,#e6ff11 180deg,#f6f600 190deg,#ffe300 200deg,#ffa600 220deg,#ff7b00 240deg,#ff4700 270deg,#ff3900 290deg,#ff4000 310deg,#ff5900 330deg,#ff6800 340deg,#ffa100 360deg)"></div>
<div class="d" style="left:820.6px;top:69.1px;width:210.5px;height:210.5px;background:conic-gradient(#ffa300 0deg,#ffdc00 20deg,#ffeb00 30deg,#f3f903 40deg,#e3ff14 60deg,#dcff1b 70deg,#c4ff33 80deg,#b3ff44 90deg,#9aff5d 100deg,#a2ff54 120deg,#e4ff13 180deg,#f4f903 190deg,#ffe600 200deg,#ffab00 220deg,#ff8100 240deg,#ff4f00 270deg,#ff3f00 290deg,#ff4600 310deg,#ff5d00 330deg,#ff6c00 340deg,#ffa300 360deg)"></div>
<div class="d" style="left:821.6px;top:70.1px;width:208.5px;height:208.5px;background:conic-gradient(#ffb000 0deg,#ffe700 20deg,#f8f500 30deg,#ebff0b 40deg,#d3ff24 70deg,#91ff66 100deg,#99ff5e 120deg,#d7ff1f 180deg,#e7ff10 190deg,#f7f600 200deg,#ffd900 210deg,#ffa500 230deg,#ff6200 270deg,#ff5300 290deg,#ff5800 310deg,#ff6e00 330deg,#ff7c00 340deg,#ffb000 360deg)"></div>
<div class="d" style="left:822.6px;top:71.1px;width:206.5px;height:206.5px;background:conic-gradient(#ffc800 0deg,#ffe100 10deg,#f3fa04 20deg,#ddff1a 40deg,#c3ff34 70deg,#aaff4c 80deg,#81ff76 100deg,#88ff6f 120deg,#c1ff35 180deg,#e0ff17 200deg,#f8f400 210deg,#ffd800 220deg,#ff9f00 250deg,#ff8100 270deg,#ff7200 290deg,#ff7e00 320deg,#ff9800 340deg,#ffc800 360deg)"></div>
<div class="d" style="left:823.6px;top:72.1px;width:204.5px;height:204.5px;background:conic-gradient(#ffe900 0deg,#eeff09 10deg,#dbff1c 20deg,#adff4a 70deg,#94ff63 80deg,#6bff8b 100deg,#72ff85 120deg,#a3ff54 180deg,#c1ff36 200deg,#f0fe07 220deg,#ffe800 230deg,#ffaa00 270deg,#ff9b00 290deg,#ff9f00 310deg,#ffb200 330deg,#ffbe00 340deg,#ffe900 360deg)"></div>
<div class="d" style="left:824.6px;top:73.1px;width:202.5px;height:202.5px;background:conic-gradient(#deff19 0deg,#beff39 20deg,#b1ff46 40deg,#92ff65 70deg,#66ff91 90deg,#51ffa6 100deg,#5dff9a 130deg,#7fff78 180deg,#9cff5b 200deg,#daff1d 230deg,#e8ff0f 240deg,#f6f701 250deg,#ffe900 260deg,#ffda00 270deg,#ffcd00 290deg,#ffd000 310deg,#feed00 340deg,#ebff0b 350deg,#deff19 360deg)"></div>
<div class="d" style="left:825.6px;top:74.1px;width:200.5px;height:200.5px;background:conic-gradient(#b5ff41 0deg,#9cff5b 20deg,#94ff63 40deg,#73ff84 70deg,#46ffb0 90deg,#33ffc4 100deg,#3cffbb 130deg,#56ffa1 180deg,#72ff85 200deg,#9cff5b 220deg,#c7ff30 250deg,#dfff18 270deg,#eaff0d 290deg,#e2ff15 320deg,#d0ff27 340deg,#bfff38 350deg,#b5ff41 360deg)"></div>
<div class="d" style="left:826.6px;top:75.1px;width:198.5px;height:198.5px;background:conic-gradient(#89ff6d 0deg,#76ff80 20deg,#74ff83 40deg,#51ffa6 70deg,#24ffd2 90deg,#13fde4 100deg,#1dffda 140deg,#2bffcc 180deg,#46ffb1 200deg,#7cff7a 230deg,#adff4a 270deg,#b6ff40 290deg,#afff48 320deg,#9fff58 340deg,#8fff67 350deg,#89ff6d 360deg)"></div>
<div class="d" style="left:827.6px;top:76.1px;width:196.5px;height:196.5px;background:conic-gradient(#5cff9b 0deg,#4fffa8 20deg,#52ffa5 40deg,#2dffca 70deg,#15ffe2 80deg,#01e7f5 90deg,#00d3ff 100deg,#00defc 150deg,#00e5f7 180deg,#19ffdd 200deg,#4bffab 230deg,#7aff7d 270deg,#81ff75 290deg,#7aff7d 320deg,#6cff8b 340deg,#5eff98 350deg,#5cff9b 360deg)"></div>
<div class="d" style="left:828.6px;top:77.1px;width:194.5px;height:194.5px;background:conic-gradient(#2effc9 0deg,#28ffcf 20deg,#2fffc8 40deg,#17ffe0 60deg,#09f1ee 70deg,#00d4ff 80deg,#00aaff 100deg,#00b1ff 180deg,#00cfff 200deg,#00e4f8 210deg,#0ef7e9 220deg,#1bffdb 230deg,#47ffb0 270deg,#4cffab 300deg,#40ffb7 330deg,#2effc9 350deg,#2effc9 360deg)"></div>
<div class="d" style="left:829.6px;top:78.1px;width:192.5px;height:192.5px;background:conic-gradient(#02e8f5 0deg,#00e6f6 20deg,#0cf4eb 40deg,#00e4f8 50deg,#00d6ff 60deg,#00c5ff 70deg,#0092ff 90deg,#0083ff 100deg,#0081ff 180deg,#009cff 200deg,#00cfff 230deg,#00dbff 240deg,#02e8f5 250deg,#16ffe1 270deg,#19ffdd 300deg,#14ffe2 320deg,#09f1ed 340deg,#00e4f8 350deg,#02e8f5 360deg)"></div>
<div class="d" style="left:830.6px;top:79.1px;width:190.5px;height:190.5px;background:conic-gradient(#00b4ff 0deg,#00b8ff 20deg,#00caff 40deg,#009bff 70deg,#006bff 90deg,#005eff 100deg,#0056ff 180deg,#006eff 200deg,#00a6ff 240deg,#00c8ff 270deg,#00cbff 300deg,#00b9ff 340deg,#00afff 350deg,#00b4ff 360deg)"></div>
<div class="d" style="left:831.6px;top:80.1px;width:188.5px;height:188.5px;background:conic-gradient(#0085ff 0deg,#008cff 20deg,#00a1ff 40deg,#0073ff 70deg,#0048ff 90deg,#003cff 100deg,#0030ff 180deg,#008aff 260deg,#0094ff 270deg,#0094ff 310deg,#0087ff 340deg,#007eff 350deg,#0085ff 360deg)"></div>
<div class="d" style="left:832.6px;top:81.1px;width:186.5px;height:186.5px;background:conic-gradient(#005aff 0deg,#0064ff 20deg,#007bff 40deg,#004fff 70deg,#0028ff 90deg,#001eff 100deg,#0010ff 180deg,#0066ff 270deg,#0065ff 310deg,#005aff 340deg,#0052ff 350deg,#005aff 360deg)"></div>
<div class="d" style="left:833.6px;top:82.1px;width:184.5px;height:184.5px;background:conic-gradient(#0035ff 0deg,#0040ff 20deg,#0057ff 40deg,#002fff 70deg,#000cff 90deg,#0004ff 100deg,#0000ff 190deg,#000eff 210deg,#003eff 270deg,#003aff 320deg,#002dff 350deg,#0035ff 360deg)"></div>
<div class="d" style="left:834.6px;top:83.1px;width:182.5px;height:182.5px;background:conic-gradient(#0014ff 0deg,#002cff 30deg,#0037ff 40deg,#0012ff 70deg,#0002ff 80deg,#0000ec 180deg,#0000ff 210deg,#0001ff 230deg,#001bff 270deg,#0015ff 330deg,#000dff 350deg,#0014ff 360deg)"></div>
<div class="d" style="left:835.6px;top:84.1px;width:180.5px;height:180.5px;background:conic-gradient(#0000ff 0deg,#0005ff 20deg,#001bff 40deg,#0000ff 70deg,#0000fa 80deg,#0000ec 90deg,#0000d8 180deg,#0000ff 250deg,#0000ff 360deg)"></div>
<div class="d" style="left:836.6px;top:85.1px;width:178.5px;height:178.5px;background:conic-gradient(#0000f0 0deg,#0000ff 30deg,#0000fe 60deg,#0000da 90deg,#0000c8 180deg,#0000f4 270deg,#0000ec 340deg,#0000e9 350deg,#0000f0 360deg)"></div>
<div class="d" style="left:837.6px;top:86.1px;width:176.5px;height:176.5px;background:conic-gradient(#0000db 0deg,#0000f1 30deg,#0000fb 40deg,#0000ca 90deg,#0000bd 180deg,#0000de 270deg,#0000d5 350deg,#0000db 360deg)"></div>
<div class="d" style="left:838.6px;top:87.1px;width:174.5px;height:174.5px;background:conic-gradient(#0000cb 0deg,#0000de 30deg,#0000e7 40deg,#0000be 90deg,#0000b5 190deg,#0000cd 270deg,#0000c6 350deg,#0000cb 360deg)"></div>
<div class="d" style="left:839.6px;top:88.1px;width:172.5px;height:172.5px;background:conic-gradient(#0000b9 0deg,#0000c7 30deg,#0000ce 40deg,#0000b1 90deg,#0000ab 190deg,#0000b9 290deg,#0000b5 350deg,#0000b9 360deg)"></div>
<div class="d" style="left:841.6px;top:90.1px;width:168.5px;height:168.5px;background:conic-gradient(#0000a9 0deg,#0000b8 40deg,#0000a5 90deg,#0000a5 230deg,#0000a8 340deg,#0000a9 360deg)"></div>
<div class="d" style="left:843.6px;top:92.1px;width:164.5px;height:164.5px;background:conic-gradient(#0000a1 0deg,#0000a9 40deg,#00009e 110deg,#0000a1 360deg)"></div>
<div class="d" style="left:845.6px;top:94.1px;width:160.5px;height:160.5px;background:conic-gradient(#00009c 0deg,#00009f 50deg,#00009b 210deg,#00009c 360deg)"></div>
<div class="d" style="left:847.6px;top:96.1px;width:156.5px;height:156.5px;background:#000099"></div>
<div class="d" style="left:849.6px;top:98.1px;width:152.5px;height:152.5px;background:#000098"></div>
<div class="d" style="left:851.6px;top:100.1px;width:148.5px;height:148.5px;background:#000097"></div>
<div class="d" style="left:853.6px;top:102.1px;width:144.5px;height:144.5px;background:#000097"></div>
<div class="d" style="left:857.6px;top:106.1px;width:136.5px;height:136.5px;background:#000097"></div>
<div class="d" style="left:861.6px;top:110.1px;width:128.5px;height:128.5px;background:#000097"></div>
<div class="d" style="left:865.6px;top:114.1px;width:120.5px;height:120.5px;background:#000097"></div>
<div class="d" style="left:869.6px;top:118.1px;width:112.5px;height:112.5px;background:#000097"></div>
<div class="d" style="left:873.1px;top:121.6px;width:105.7px;height:105.7px;background:#fff"></div>
<svg width="1200" height="893" viewBox="0 0 1200 893">
<rect x="47.4" y="13.2" width="322.7" height="321.8" fill="none" stroke="#000" stroke-width="1.4"/>
<text x="51.4" y="353.9" text-anchor="middle" font-family="'DejaVu Sans Condensed','DejaVu Sans',sans-serif" letter-spacing=".95" font-size="19">−1.5</text>
<text x="46.7" y="341.2" text-anchor="end" font-family="'DejaVu Sans Condensed','DejaVu Sans',sans-serif" letter-spacing=".95" font-size="19">−1.5</text>
<text x="104.5" y="353.9" text-anchor="middle" font-family="'DejaVu Sans Condensed','DejaVu Sans',sans-serif" letter-spacing=".95" font-size="19">−1.0</text>
<text x="46.7" y="288.1" text-anchor="end" font-family="'DejaVu Sans Condensed','DejaVu Sans',sans-serif" letter-spacing=".95" font-size="19">−1.0</text>
<text x="157.7" y="353.9" text-anchor="middle" font-family="'DejaVu Sans Condensed','DejaVu Sans',sans-serif" letter-spacing=".95" font-size="19">−0.5</text>
<text x="46.7" y="235.0" text-anchor="end" font-family="'DejaVu Sans Condensed','DejaVu Sans',sans-serif" letter-spacing=".95" font-size="19">−0.5</text>
<text x="210.8" y="353.9" text-anchor="middle" font-family="'DejaVu Sans Condensed','DejaVu Sans',sans-serif" letter-spacing=".95" font-size="19">0.0</text>
<text x="46.7" y="181.8" text-anchor="end" font-family="'DejaVu Sans Condensed','DejaVu Sans',sans-serif" letter-spacing=".95" font-size="19">0.0</text>
<text x="263.9" y="353.9" text-anchor="middle" font-family="'DejaVu Sans Condensed','DejaVu Sans',sans-serif" letter-spacing=".95" font-size="19">0.5</text>
<text x="46.7" y="128.7" text-anchor="end" font-family="'DejaVu Sans Condensed','DejaVu Sans',sans-serif" letter-spacing=".95" font-size="19">0.5</text>
<text x="317.1" y="353.9" text-anchor="middle" font-family="'DejaVu Sans Condensed','DejaVu Sans',sans-serif" letter-spacing=".95" font-size="19">1.0</text>
<text x="46.7" y="75.5" text-anchor="end" font-family="'DejaVu Sans Condensed','DejaVu Sans',sans-serif" letter-spacing=".95" font-size="19">1.0</text>
<text x="370.2" y="353.9" text-anchor="middle" font-family="'DejaVu Sans Condensed','DejaVu Sans',sans-serif" letter-spacing=".95" font-size="19">1.5</text>
<text x="46.7" y="22.4" text-anchor="end" font-family="'DejaVu Sans Condensed','DejaVu Sans',sans-serif" letter-spacing=".95" font-size="19">1.5</text>
<path d="M49.6 13.2v5.5M49.6 335.0v-5.5M102.7 13.2v5.5M102.7 335.0v-5.5M47.4 280.7h5.5M370.1 280.7h-5.5M155.8 13.2v5.5M155.8 335.0v-5.5M47.4 227.6h5.5M370.1 227.6h-5.5M262.1 13.2v5.5M262.1 335.0v-5.5M47.4 121.2h5.5M370.1 121.2h-5.5M315.3 13.2v5.5M315.3 335.0v-5.5M47.4 68.1h5.5M370.1 68.1h-5.5M368.4 13.2v5.5M368.4 335.0v-5.5M47.4 15.0h5.5M370.1 15.0h-5.5" stroke="#000" stroke-width="1" fill="none"/>
<text x="209.0" y="367" text-anchor="middle" font-size="19">X</text>
<circle cx="316.6" cy="179.2" r="5.1" fill="#f01cbc" stroke="#000" stroke-width="1"/>
<text font-family='"Liberation Serif","DejaVu Serif",serif' fill="#e9e9ff" font-size="20.5"><tspan x="167.5" y="46.9" font-style="italic" font-size="22" textLength="12.6" lengthAdjust="spacingAndGlyphs">ν</tspan><tspan x="178.7" y="51.3" font-style="italic" font-size="14.3" textLength="20" lengthAdjust="spacingAndGlyphs">BG</tspan><tspan x="202.1" y="46.9" textLength="15.2" lengthAdjust="spacingAndGlyphs">=</tspan><tspan x="218.5" y="46.9">10</tspan><tspan x="240.7" y="38.6" font-size="14.3" textLength="9.6" lengthAdjust="spacingAndGlyphs">−</tspan><tspan x="250.7" y="38.6" font-size="14.3">5</tspan></text>
<rect x="404.0" y="13.2" width="322.3" height="321.8" fill="none" stroke="#000" stroke-width="1.4"/>
<text x="407.4" y="353.9" text-anchor="middle" font-family="'DejaVu Sans Condensed','DejaVu Sans',sans-serif" letter-spacing=".95" font-size="19">−1.5</text>
<text x="460.5" y="353.9" text-anchor="middle" font-family="'DejaVu Sans Condensed','DejaVu Sans',sans-serif" letter-spacing=".95" font-size="19">−1.0</text>
<text x="513.6" y="353.9" text-anchor="middle" font-family="'DejaVu Sans Condensed','DejaVu Sans',sans-serif" letter-spacing=".95" font-size="19">−0.5</text>
<text x="566.8" y="353.9" text-anchor="middle" font-family="'DejaVu Sans Condensed','DejaVu Sans',sans-serif" letter-spacing=".95" font-size="19">0.0</text>
<text x="619.9" y="353.9" text-anchor="middle" font-family="'DejaVu Sans Condensed','DejaVu Sans',sans-serif" letter-spacing=".95" font-size="19">0.5</text>
<text x="673.1" y="353.9" text-anchor="middle" font-family="'DejaVu Sans Condensed','DejaVu Sans',sans-serif" letter-spacing=".95" font-size="19">1.0</text>
<text x="726.2" y="353.9" text-anchor="middle" font-family="'DejaVu Sans Condensed','DejaVu Sans',sans-serif" letter-spacing=".95" font-size="19">1.5</text>
<path d="M405.6 13.2v5.5M405.6 335.0v-5.5M458.7 13.2v5.5M458.7 335.0v-5.5M404.0 280.7h5.5M726.3 280.7h-5.5M511.9 13.2v5.5M511.9 335.0v-5.5M404.0 227.6h5.5M726.3 227.6h-5.5M618.1 13.2v5.5M618.1 335.0v-5.5M404.0 121.2h5.5M726.3 121.2h-5.5M671.3 13.2v5.5M671.3 335.0v-5.5M404.0 68.1h5.5M726.3 68.1h-5.5M724.5 13.2v5.5M724.5 335.0v-5.5M404.0 15.0h5.5M726.3 15.0h-5.5" stroke="#000" stroke-width="1" fill="none"/>
<text x="565.0" y="367" text-anchor="middle" font-size="19">X</text>
<circle cx="671.3" cy="174.4" r="5.1" fill="#f01cbc" stroke="#000" stroke-width="1"/>
<text font-family='"Liberation Serif","DejaVu Serif",serif' fill="#e9e9ff" font-size="20.5"><tspan x="520.5" y="46.9" font-style="italic" font-size="22" textLength="12.6" lengthAdjust="spacingAndGlyphs">ν</tspan><tspan x="531.7" y="51.3" font-style="italic" font-size="14.3" textLength="20" lengthAdjust="spacingAndGlyphs">BG</tspan><tspan x="555.1" y="46.9" textLength="15.2" lengthAdjust="spacingAndGlyphs">=</tspan><tspan x="571.5" y="46.9">10</tspan><tspan x="593.7" y="38.6" font-size="14.3" textLength="9.6" lengthAdjust="spacingAndGlyphs">−</tspan><tspan x="603.7" y="38.6" font-size="14.3">6</tspan></text>
<rect x="764.2" y="13.2" width="323.8" height="321.8" fill="none" stroke="#000" stroke-width="1.4"/>
<text x="768.2" y="353.9" text-anchor="middle" font-family="'DejaVu Sans Condensed','DejaVu Sans',sans-serif" letter-spacing=".95" font-size="19">−1.5</text>
<text x="821.4" y="353.9" text-anchor="middle" font-family="'DejaVu Sans Condensed','DejaVu Sans',sans-serif" letter-spacing=".95" font-size="19">−1.0</text>
<text x="874.5" y="353.9" text-anchor="middle" font-family="'DejaVu Sans Condensed','DejaVu Sans',sans-serif" letter-spacing=".95" font-size="19">−0.5</text>
<text x="927.7" y="353.9" text-anchor="middle" font-family="'DejaVu Sans Condensed','DejaVu Sans',sans-serif" letter-spacing=".95" font-size="19">0.0</text>
<text x="980.8" y="353.9" text-anchor="middle" font-family="'DejaVu Sans Condensed','DejaVu Sans',sans-serif" letter-spacing=".95" font-size="19">0.5</text>
<text x="1034.0" y="353.9" text-anchor="middle" font-family="'DejaVu Sans Condensed','DejaVu Sans',sans-serif" letter-spacing=".95" font-size="19">1.0</text>
<text x="1087.1" y="353.9" text-anchor="middle" font-family="'DejaVu Sans Condensed','DejaVu Sans',sans-serif" letter-spacing=".95" font-size="19">1.5</text>
<path d="M766.5 13.2v5.5M766.5 335.0v-5.5M819.6 13.2v5.5M819.6 335.0v-5.5M764.2 280.7h5.5M1088.0 280.7h-5.5M872.8 13.2v5.5M872.8 335.0v-5.5M764.2 227.6h5.5M1088.0 227.6h-5.5M979.0 13.2v5.5M979.0 335.0v-5.5M764.2 121.2h5.5M1088.0 121.2h-5.5M1032.2 13.2v5.5M1032.2 335.0v-5.5M764.2 68.1h5.5M1088.0 68.1h-5.5M1085.3 13.2v5.5M1085.3 335.0v-5.5M764.2 15.0h5.5M1088.0 15.0h-5.5" stroke="#000" stroke-width="1" fill="none"/>
<text x="925.9" y="367" text-anchor="middle" font-size="19">X</text>
<circle cx="1032.2" cy="174.4" r="5.1" fill="#f01cbc" stroke="#000" stroke-width="1"/>
<text font-family='"Liberation Serif","DejaVu Serif",serif' fill="#e9e9ff" font-size="20.5"><tspan x="884.4" y="46.9" font-style="italic" font-size="22" textLength="12.6" lengthAdjust="spacingAndGlyphs">ν</tspan><tspan x="895.6" y="51.3" font-style="italic" font-size="14.3" textLength="20" lengthAdjust="spacingAndGlyphs">BG</tspan><tspan x="919.0" y="46.9" textLength="15.2" lengthAdjust="spacingAndGlyphs">=</tspan><tspan x="935.4" y="46.9">10</tspan><tspan x="957.6" y="38.6" font-size="14.3" textLength="9.6" lengthAdjust="spacingAndGlyphs">−</tspan><tspan x="967.6" y="38.6" font-size="14.3">7</tspan></text>
<text transform="translate(30.7 162.5) rotate(-90)" text-anchor="middle" font-size="19">Y</text>
<text x="1119.2" y="367" text-anchor="middle" font-size="19">X</text>
<defs><linearGradient id="jet" x1="0" y1="1" x2="0" y2="0"><stop offset="0" stop-color="#000080"/><stop offset="0.11" stop-color="#0000ff"/><stop offset="0.125" stop-color="#0000ff"/><stop offset="0.34" stop-color="#00dbff"/><stop offset="0.35" stop-color="#00e5f7"/><stop offset="0.375" stop-color="#15ffe2"/><stop offset="0.5" stop-color="#7bff7b"/><stop offset="0.64" stop-color="#efff08"/><stop offset="0.65" stop-color="#f7f600"/><stop offset="0.66" stop-color="#ffec00"/><stop offset="0.89" stop-color="#ff1300"/><stop offset="0.91" stop-color="#e80000"/><stop offset="1" stop-color="#800000"/></linearGradient></defs>
<rect x="1100.5" y="13.5" width="24.0" height="322.0" fill="url(#jet)" stroke="#000" stroke-width="1"/>
<text x="1130.5" y="19.1" font-family="'DejaVu Sans Condensed','DejaVu Sans',sans-serif" letter-spacing=".75" font-size="15.6">−6.8</text>
<text x="1130.5" y="59.4" font-family="'DejaVu Sans Condensed','DejaVu Sans',sans-serif" letter-spacing=".75" font-size="15.6">−6.9</text>
<text x="1130.5" y="99.6" font-family="'DejaVu Sans Condensed','DejaVu Sans',sans-serif" letter-spacing=".75" font-size="15.6">−7.0</text>
<text x="1130.5" y="139.8" font-family="'DejaVu Sans Condensed','DejaVu Sans',sans-serif" letter-spacing=".75" font-size="15.6">−7.1</text>
<text x="1130.5" y="180.1" font-family="'DejaVu Sans Condensed','DejaVu Sans',sans-serif" letter-spacing=".75" font-size="15.6">−7.2</text>
<text x="1130.5" y="220.3" font-family="'DejaVu Sans Condensed','DejaVu Sans',sans-serif" letter-spacing=".75" font-size="15.6">−7.3</text>
<text x="1130.5" y="260.6" font-family="'DejaVu Sans Condensed','DejaVu Sans',sans-serif" letter-spacing=".75" font-size="15.6">−7.4</text>
<text x="1130.5" y="300.9" font-family="'DejaVu Sans Condensed','DejaVu Sans',sans-serif" letter-spacing=".75" font-size="15.6">−7.5</text>
<text x="1130.5" y="341.1" font-family="'DejaVu Sans Condensed','DejaVu Sans',sans-serif" letter-spacing=".75" font-size="15.6">−7.6</text>
<path d="M1124.5 13.5h-3.5M1124.5 53.8h-3.5M1124.5 94.0h-3.5M1124.5 134.2h-3.5M1124.5 174.5h-3.5M1124.5 214.8h-3.5M1124.5 255.0h-3.5M1124.5 295.2h-3.5M1124.5 335.5h-3.5" stroke="#000" stroke-width="1" fill="none"/>
<text transform="translate(1189.9 189.2) rotate(-90)" text-anchor="middle" font-family='"Liberation Serif","DejaVu Serif",serif' font-size="22.5" textLength="60">log(Σ)</text>
<clipPath id="axc"><rect x="125.6" y="403.0" width="1025.0" height="422.8"/></clipPath>
<g clip-path="url(#axc)" fill="none" stroke-linejoin="round">
<path d="M125.6 421.1C127.2 422.3 132.2 425.8 135.6 428.2C138.9 430.5 142.2 432.9 145.5 435.3C148.8 437.7 152.1 440.2 155.4 442.6C158.7 445.1 162.0 447.6 165.3 450.1C168.5 452.7 171.7 455.2 175.0 457.8C178.2 460.4 181.4 463.0 184.5 465.7C187.7 468.3 190.8 471.0 193.9 473.7C197.0 476.5 200.1 479.2 203.1 482.0C206.1 484.8 209.1 487.7 212.1 490.6C215.0 493.4 217.9 496.4 220.8 499.3C223.6 502.3 226.4 505.3 229.2 508.4C231.9 511.4 234.6 514.5 237.3 517.6C240.0 520.8 242.6 524.0 245.1 527.2C247.6 530.4 250.1 533.6 252.6 536.9C255.0 540.2 257.4 543.6 259.7 546.9C262.0 550.3 264.3 553.7 266.5 557.2C268.6 560.6 270.8 564.1 272.8 567.6C274.9 571.1 276.9 574.7 278.8 578.3C280.7 581.9 282.6 585.6 284.3 589.2C286.1 592.9 287.8 596.6 289.5 600.3C291.1 604.1 292.7 607.9 294.2 611.7C295.7 615.5 297.2 619.3 298.5 623.2C299.9 627.0 301.2 630.9 302.5 634.8C303.7 638.7 304.9 642.7 306.0 646.6C307.1 650.6 308.2 654.5 309.2 658.5C310.2 662.5 311.1 666.5 312.0 670.6C312.9 674.6 313.7 678.6 314.5 682.7C315.2 686.7 315.9 690.8 316.6 694.9C317.2 699.0 317.8 703.1 318.3 707.2C318.9 711.2 319.3 715.4 319.8 719.5C320.2 723.6 320.6 727.7 320.9 731.8C321.2 735.9 321.5 740.0 321.7 744.1C321.9 748.2 322.1 752.3 322.2 756.4C322.3 760.5 322.4 764.7 322.4 768.7C322.4 772.8 322.3 779.0 322.3 781.0L322.4 799.5L322.6 783.0H1150.6" stroke="#ee1111" stroke-width="5.2"/>
<path d="M125.6 421.1C126.8 422.1 130.4 425.1 132.9 427.1C135.4 429.0 137.9 430.9 140.5 432.8C143.0 434.7 145.6 436.6 148.3 438.4C150.9 440.2 154.9 442.9 156.3 443.8" stroke="#33ee11" stroke-width="4.6" stroke-dasharray="2.4 7.2" stroke-dashoffset="-4"/>
<path d="M156.3 443.8C157.7 444.7 161.7 447.3 164.5 449.1C167.2 450.8 170.0 452.5 172.8 454.2C175.6 455.9 178.5 457.6 181.3 459.3C184.1 461.0 187.0 462.7 189.8 464.4C192.7 466.0 195.5 467.7 198.4 469.4C201.2 471.1 204.1 472.7 207.0 474.4C209.8 476.1 212.7 477.8 215.5 479.5C218.4 481.2 221.2 482.9 224.0 484.6C226.8 486.3 229.6 488.1 232.4 489.8C235.2 491.6 238.0 493.4 240.7 495.2C243.4 497.0 246.1 498.8 248.8 500.6C251.5 502.5 254.1 504.4 256.7 506.3C259.3 508.2 261.9 510.2 264.4 512.2C266.9 514.2 269.4 516.2 271.8 518.3C274.3 520.3 276.6 522.5 278.9 524.6C281.3 526.8 283.5 529.0 285.7 531.3C287.9 533.5 290.1 535.9 292.2 538.2C294.2 540.6 296.3 543.0 298.2 545.5C300.1 548.0 302.0 550.6 303.8 553.2C305.6 555.8 307.3 558.5 308.9 561.2C310.6 564.0 312.2 566.8 313.7 569.6C315.2 572.5 316.6 575.3 318.0 578.3C319.4 581.2 320.7 584.2 322.0 587.2C323.3 590.2 324.5 593.3 325.7 596.3C326.8 599.4 327.9 602.5 329.0 605.7C330.0 608.8 331.1 612.0 332.0 615.1C333.0 618.3 333.9 621.5 334.8 624.7C335.7 628.0 336.5 631.2 337.3 634.4C338.1 637.7 338.9 640.9 339.6 644.1C340.3 647.4 341.0 650.6 341.7 653.9C342.4 657.1 343.3 662.0 343.6 663.6" stroke="#33ee11" stroke-width="5"/>
<path d="M343.6 663.6C343.9 665.2 344.8 670.0 345.4 673.3C346.0 676.5 346.5 679.7 347.1 682.8C347.6 686.0 348.1 689.2 348.6 692.4C349.1 695.6 349.6 698.7 350.0 701.9C350.5 705.1 351.0 708.3 351.4 711.4C351.9 714.6 352.3 717.8 352.7 720.9C353.2 724.1 353.6 727.3 354.0 730.4C354.5 733.6 354.9 736.8 355.3 740.0C355.7 743.2 356.1 746.4 356.6 749.6C357.0 752.8 357.4 756.0 357.9 759.2C358.3 762.4 358.7 765.7 359.2 768.9C359.7 772.2 360.4 777.1 360.6 778.7" stroke="#33ee11" stroke-width="4.2" stroke-dasharray="3.4 3.2"/>
<path d="M360.7 777.8L358.9 795" stroke="#33ee11" stroke-width="3.4" stroke-dasharray="3.4 2.4"/>
<path d="M359.5 783.2H1150.6" stroke="#33ee11" stroke-width="3.6" stroke-dasharray="2.2 7.2"/>
<path d="M125.6 421.1C129.2 425.8 140.3 440.2 147.0 449.4C153.7 458.6 159.5 467.4 165.8 476.4C172.1 485.4 178.3 494.4 184.6 503.4C190.9 512.4 197.6 521.3 203.5 530.5C209.4 539.7 214.8 549.1 219.9 558.7C225.0 568.3 230.7 580.5 234.0 588.0C237.3 595.5 238.2 598.2 240.0 603.5C241.8 608.8 242.3 612.0 244.7 620.0C247.0 628.0 251.5 641.1 254.1 651.7C256.7 662.3 258.4 672.9 260.4 683.5C262.3 694.1 264.2 704.4 265.8 715.2C267.4 726.0 269.0 739.9 270.1 748.1C271.2 756.3 271.4 759.5 272.2 764.6C272.9 769.8 273.2 775.3 274.6 779.0C276.0 782.7 277.2 784.9 280.6 786.6C284.0 788.3 289.8 788.7 295.2 789.2C300.6 789.7 278.8 789.3 312.9 789.5C347.0 789.7 360.4 789.7 500.0 790.2C639.6 790.7 1042.2 791.9 1150.6 792.3" stroke="#1c5fe0" stroke-width="4.8" stroke-dasharray="6.8 11.8 2.2 11.9" stroke-dashoffset="-0.5"/>
</g>
<rect x="125.6" y="403.0" width="1025.0" height="422.8" fill="none" stroke="#000" stroke-width="2.2"/>
<text x="127.6" y="857.6" text-anchor="middle" letter-spacing=".5" font-size="27.5">0</text>
<text x="383.9" y="857.6" text-anchor="middle" letter-spacing=".5" font-size="27.5">5000</text>
<text x="640.1" y="857.6" text-anchor="middle" letter-spacing=".5" font-size="27.5">10000</text>
<text x="896.4" y="857.6" text-anchor="middle" letter-spacing=".5" font-size="27.5">15000</text>
<text x="1152.6" y="857.6" text-anchor="middle" letter-spacing=".5" font-size="27.5">20000</text>
<text x="121.9" y="799.9" text-anchor="end" letter-spacing=".4" font-size="27.5">1.00</text>
<text x="121.9" y="708.0" text-anchor="end" letter-spacing=".4" font-size="27.5">1.05</text>
<text x="121.9" y="616.1" text-anchor="end" letter-spacing=".4" font-size="27.5">1.10</text>
<text x="121.9" y="524.2" text-anchor="end" letter-spacing=".4" font-size="27.5">1.15</text>
<text x="121.9" y="432.3" text-anchor="end" letter-spacing=".4" font-size="27.5">1.20</text>
<path d="M125.6 403.0v9.3M125.6 825.8v-9.3M381.9 403.0v9.3M381.9 825.8v-9.3M638.1 403.0v9.3M638.1 825.8v-9.3M894.4 403.0v9.3M894.4 825.8v-9.3M1150.6 403.0v9.3M1150.6 825.8v-9.3M125.6 788.7h9.3M1150.6 788.7h-9.3M125.6 696.8h9.3M1150.6 696.8h-9.3M125.6 604.9h9.3M1150.6 604.9h-9.3M125.6 513.0h9.3M1150.6 513.0h-9.3M125.6 421.1h9.3M1150.6 421.1h-9.3" stroke="#000" stroke-width="1.4" fill="none"/>
<rect x="888.9" y="420.2" width="244.8" height="168" fill="#fff" stroke="#000" stroke-width="2.1"/>
<path d="M910.3 452.1H962.7" stroke="#ee1111" stroke-width="4.8"/>
<path d="M912.6 506.3H960.5" stroke="#33ee11" stroke-width="4.4" stroke-dasharray="2.8 6.8"/>
<path d="M912.8 560.7H960" stroke="#1c5fe0" stroke-width="4.6" stroke-dasharray="6.5 12.5 2 12.6"/>
<text font-family='"Liberation Serif","DejaVu Serif",serif' font-size="32.5"><tspan x="997.8" y="463.0" font-style="italic" font-size="35" textLength="19.5" lengthAdjust="spacingAndGlyphs">ν</tspan><tspan x="1021.5" y="463.0" textLength="23.5" lengthAdjust="spacingAndGlyphs">=</tspan><tspan x="1047.5" y="463.0">10</tspan><tspan x="1083.2" y="449.8" font-size="22.8" textLength="15.5" lengthAdjust="spacingAndGlyphs">−</tspan><tspan x="1099.6" y="449.8" font-size="22.8">5</tspan></text>
<text font-family='"Liberation Serif","DejaVu Serif",serif' font-size="32.5"><tspan x="997.8" y="517.1" font-style="italic" font-size="35" textLength="19.5" lengthAdjust="spacingAndGlyphs">ν</tspan><tspan x="1021.5" y="517.1" textLength="23.5" lengthAdjust="spacingAndGlyphs">=</tspan><tspan x="1047.5" y="517.1">10</tspan><tspan x="1083.2" y="503.9" font-size="22.8" textLength="15.5" lengthAdjust="spacingAndGlyphs">−</tspan><tspan x="1099.6" y="503.9" font-size="22.8">6</tspan></text>
<text font-family='"Liberation Serif","DejaVu Serif",serif' font-size="32.5"><tspan x="997.8" y="572.0" font-style="italic" font-size="35" textLength="19.5" lengthAdjust="spacingAndGlyphs">ν</tspan><tspan x="1021.5" y="572.0" textLength="23.5" lengthAdjust="spacingAndGlyphs">=</tspan><tspan x="1047.5" y="572.0">10</tspan><tspan x="1083.2" y="558.8" font-size="22.8" textLength="15.5" lengthAdjust="spacingAndGlyphs">−</tspan><tspan x="1099.6" y="558.8" font-size="22.8">7</tspan></text>
<text transform="translate(40.3 663.5) rotate(-90)" font-family='"Liberation Serif","DejaVu Serif",serif' font-style="italic"><tspan x="-9" y="0" font-size="38">a</tspan><tspan x="8.5" y="8.5" font-size="27">p</tspan></text>
<text font-family='"Liberation Serif","DejaVu Serif",serif' font-size="37.5"><tspan x="586.6" y="880" font-style="italic" textLength="12.6" lengthAdjust="spacingAndGlyphs">t</tspan> <tspan x="611.6" y="881.6" font-size="41.5">(</tspan><tspan x="625.5" y="880" font-style="italic" textLength="77" lengthAdjust="spacing">orbit</tspan><tspan x="703.2" y="881.6" font-size="41.5">)</tspan></text>
</svg>
</div>
</body></html>
